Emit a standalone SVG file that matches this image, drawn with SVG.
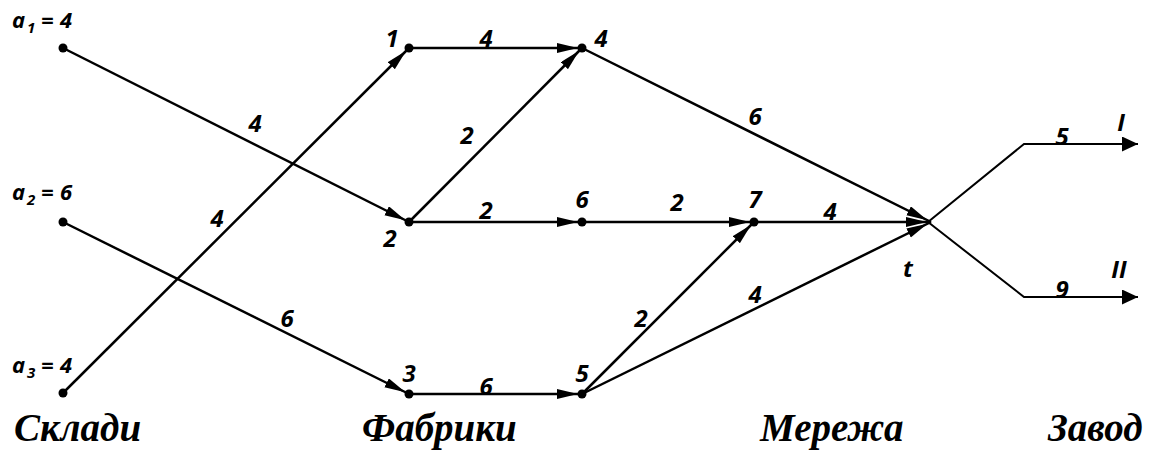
<svg xmlns="http://www.w3.org/2000/svg" width="1154" height="450" viewBox="0 0 1154 450">
<style>
.e{stroke:#000;stroke-width:2.5;fill:none;marker-end:url(#ah)}
.b{stroke:#000;stroke-width:2;fill:none;marker-end:url(#ah2)}
.d{fill:#000}
.l{font-family:"Open Sans","Liberation Sans",sans-serif;font-weight:bold;font-style:italic;font-size:24px;fill:#000;text-anchor:middle}
.a{font-family:"Open Sans","Liberation Sans",sans-serif;font-weight:bold;font-style:italic;font-size:22px;fill:#000}
.s{font-size:15px}
.t{font-family:"Liberation Serif","Times New Roman",serif;font-weight:bold;font-style:italic;font-size:39px;fill:#000}
</style>
<defs>
<marker id="ah" markerUnits="userSpaceOnUse" markerWidth="26" markerHeight="12" refX="25" refY="5" orient="auto"><path d="M0,0 L21,5 L0,10 z" fill="#000"/></marker>
<marker id="ah2" markerUnits="userSpaceOnUse" markerWidth="18" markerHeight="16" refX="16" refY="7.5" orient="auto"><path d="M0,0 L16,7.5 L0,15 z" fill="#000"/></marker>
</defs>
<g id="connectors">
<line class="e" x1="63" y1="48" x2="409" y2="222"/>
<line class="e" x1="63" y1="222" x2="409" y2="394"/>
<line class="e" x1="63" y1="393" x2="409" y2="48"/>
<line class="e" x1="409" y1="48" x2="582" y2="48"/>
<line class="e" x1="409" y1="222" x2="582" y2="48"/>
<line class="e" x1="409" y1="222" x2="582" y2="222"/>
<line class="e" x1="582" y1="222" x2="754" y2="222"/>
<line class="e" x1="409" y1="394" x2="582" y2="394"/>
<line class="e" x1="582" y1="394" x2="754" y2="222"/>
<line class="e" x1="754" y1="222" x2="931" y2="222"/>
<line class="e" x1="582" y1="48" x2="931" y2="222"/>
<line class="e" x1="582" y1="394" x2="931" y2="222"/>
<polyline class="b" points="928,222 1024,144 1138,144"/>
<polyline class="b" points="928,222 1024,297 1138,297"/>
</g>
<g id="edge-labels">
<text class="l" x="255" y="132">4</text>
<text class="l" x="217" y="227">4</text>
<text class="l" x="287" y="327">6</text>
<text class="l" x="486" y="47">4</text>
<text class="l" x="467" y="144">2</text>
<text class="l" x="486" y="219">2</text>
<text class="l" x="677" y="211">2</text>
<text class="l" x="755" y="125">6</text>
<text class="l" x="830" y="220">4</text>
<text class="l" x="641" y="327">2</text>
<text class="l" x="755" y="303">4</text>
<text class="l" x="486" y="395">6</text>
<text class="l" x="1062" y="145">5</text>
<text class="l" x="1062" y="298">9</text>
</g>
<g id="s1"><circle class="d" cx="63" cy="48" r="4.5"/><text class="a" y="28"><tspan x="12">a</tspan><tspan class="s" x="27" dy="5">1</tspan><tspan x="41" dy="-5">=</tspan><tspan x="60">4</tspan></text></g>
<g id="s2"><circle class="d" cx="63" cy="222" r="4.5"/><text class="a" y="200"><tspan x="12">a</tspan><tspan class="s" x="27" dy="5">2</tspan><tspan x="41" dy="-5">=</tspan><tspan x="60">6</tspan></text></g>
<g id="s3"><circle class="d" cx="63" cy="393" r="4.5"/><text class="a" y="373"><tspan x="12">a</tspan><tspan class="s" x="27" dy="5">3</tspan><tspan x="41" dy="-5">=</tspan><tspan x="60">4</tspan></text></g>
<g id="n1"><circle class="d" cx="409" cy="48" r="4.5"/><text class="l" x="392" y="47">1</text></g>
<g id="n2"><circle class="d" cx="409" cy="222" r="4.5"/><text class="l" x="390" y="247">2</text></g>
<g id="n3"><circle class="d" cx="409" cy="394" r="4.5"/><text class="l" x="409" y="382">3</text></g>
<g id="n4"><circle class="d" cx="582" cy="48" r="4.5"/><text class="l" x="601" y="47">4</text></g>
<g id="n5"><circle class="d" cx="582" cy="394" r="4.5"/><text class="l" x="582" y="382">5</text></g>
<g id="n6"><circle class="d" cx="582" cy="222" r="4.5"/><text class="l" x="582" y="208">6</text></g>
<g id="n7"><circle class="d" cx="754" cy="222" r="4.5"/><text class="l" x="755" y="208">7</text></g>
<g id="nt"><text class="l" x="908" y="277">t</text></g>
<g id="p1"><text class="l" x="1121" y="131">I</text></g>
<g id="p2"><text class="l" x="1119" y="278">II</text></g>
<g id="titles">
<text class="t" x="14" y="441">Склади</text>
<text class="t" x="362" y="441">Фабрики</text>
<text class="t" x="760" y="441">Мережа</text>
<text class="t" x="1048" y="441">Завод</text>
</g>
</svg>
